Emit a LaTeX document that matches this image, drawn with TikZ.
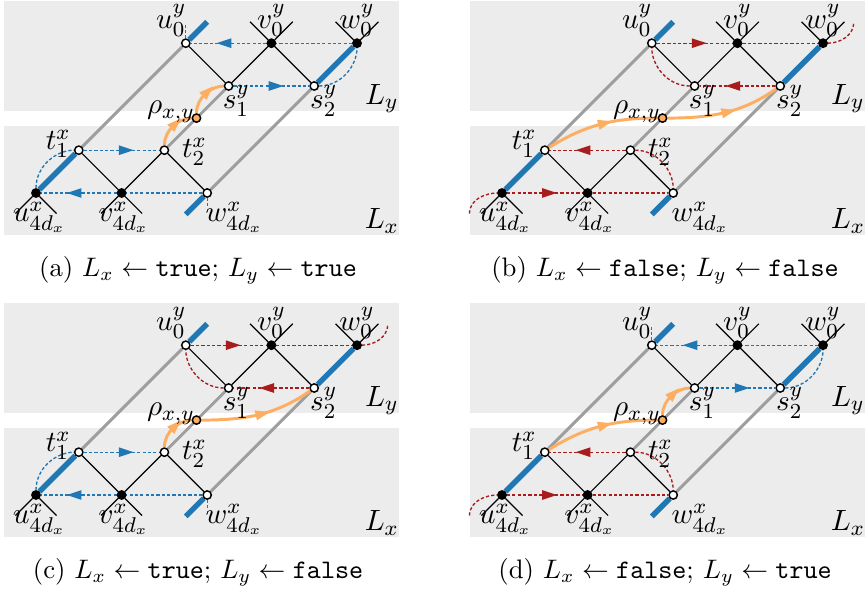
\documentclass[tikz,border=0pt]{standalone}
\usetikzlibrary{arrows.meta,decorations.markings}
\pgfdeclarelayer{bg}
\pgfdeclarelayer{lines}
\pgfsetlayers{bg,lines,main}
\definecolor{tabblue}{RGB}{31,119,180}
\definecolor{dred}{RGB}{168,28,28}
\definecolor{lorange}{RGB}{253,174,97}
\definecolor{boxgray}{RGB}{236,236,236}
\definecolor{linegray}{RGB}{158,158,158}
\tikzset{
  vtx/.style={circle,draw=black,line width=0.55pt,inner sep=0pt,minimum size=3.1pt},
  wvtx/.style={vtx,fill=white},
  bvtx/.style={vtx,fill=black},
  ovtx/.style={vtx,fill=lorange},
  lbl/.style={font=\fontsize{11}{13}\selectfont,inner sep=0pt},
  captxt/.style={font=\fontsize{10}{12}\selectfont,inner sep=0pt},
  graybar/.style={draw=linegray,line width=1.1pt},
  bluebar/.style={draw=tabblue,line width=2pt},
  edgeline/.style={draw=black,line width=0.45pt},
  bdash/.style={draw=tabblue,line width=0.5pt,dash pattern=on 1.2pt off 0.8pt},
  rdash/.style={draw=dred,line width=0.5pt,dash pattern=on 1.2pt off 0.8pt},
  opath/.style={draw=lorange,line width=1.1pt},
  midarrow/.style={postaction={decorate},decoration={markings,mark=at position 0.5 with {\arrow[xshift=4.5pt]{Triangle[length=5.5pt,width=3.5pt]}}}},
}
\newcommand\panelbase{%
  \begin{pgfonlayer}{bg}
    \fill[boxgray] (-0.75,1.92) rectangle (8.47,4.49);
    \fill[boxgray] (-0.75,-0.99) rectangle (8.47,1.57);
  \end{pgfonlayer}
  \node[bvtx] (u4) at (0,0) {};
  \node[wvtx] (t1) at (1,1) {};
  \node[bvtx] (v4) at (2,0) {};
  \node[wvtx] (t2) at (3,1) {};
  \node[wvtx] (w4) at (4,0) {};
  \node[wvtx] (u0) at (3.5,3.5) {};
  \node[wvtx] (s1) at (4.5,2.5) {};
  \node[bvtx] (v0) at (5.5,3.5) {};
  \node[wvtx] (s2) at (6.5,2.5) {};
  \node[bvtx] (w0) at (7.5,3.5) {};
  \node[ovtx] (rho) at (3.75,1.75) {};
  \coordinate (u0ext) at (4,4);
  \coordinate (w4ext) at (3.5,-0.5);
  \coordinate (u4sl) at (-0.48,-0.48);
  \coordinate (u4sr) at (0.48,-0.48);
  \coordinate (v4sl) at (1.52,-0.48);
  \coordinate (v4sr) at (2.48,-0.48);
  \coordinate (v0sl) at (5,4);
  \coordinate (v0sr) at (6,4);
  \coordinate (w0sl) at (7,4);
  \coordinate (w0sr) at (8,4);
  \begin{pgfonlayer}{lines}
    \draw[graybar] (t1) -- (u0);
    \draw[graybar] (t2) -- (s1);
    \draw[graybar] (w4) -- (s2);
    \draw[bluebar] (u4) -- (t1);
    \draw[bluebar] (s2) -- (w0);
    \draw[bluebar] (u0) -- (u0ext);
    \draw[bluebar] (w4) -- (w4ext);
    \draw[edgeline] (u4sl) -- (u4) -- (u4sr);
    \draw[edgeline] (v4sl) -- (v4) -- (v4sr);
    \draw[edgeline] (t1) -- (v4) -- (t2) -- (w4);
    \draw[edgeline] (u0) -- (s1) -- (v0) -- (s2);
    \draw[edgeline] (v0sl) -- (v0) -- (v0sr);
    \draw[edgeline] (w0sl) -- (w0) -- (w0sr);
  \end{pgfonlayer}
  \node[lbl] (lu0) at (3.16,4.03) {$u_0^y$};
  \node[lbl] (lv0) at (5.5,4.03) {$v_0^y$};
  \node[lbl] (lw0) at (7.5,4.03) {$w_0^y$};
  \node[lbl] (ls1) at (4.68,2.15) {$s_1^y$};
  \node[lbl] (ls2) at (6.72,2.15) {$s_2^y$};
  \node[lbl] (lrho) at (3.15,1.9) {$\rho_{x,y}$};
  \node[lbl] (lt1) at (0.52,1.15) {$t_1^x$};
  \node[lbl] (lt2) at (3.7,0.97) {$t_2^x$};
  \node[lbl] (lu4) at (0.08,-0.57) {$u_{4d_x}^x$};
  \node[lbl] (lv4) at (2.05,-0.57) {$v_{4d_x}^x$};
  \node[lbl] (lw4) at (4.63,-0.57) {$w_{4d_x}^x$};
  \node[lbl] (lly) at (8.08,2.2) {$L_y$};
  \node[lbl] (llx) at (8.08,-0.65) {$L_x$};
}
% upper part, L_y true (blue)
\newcommand\uppertrue{%
  \coordinate (u0stub) at (3.5,3.92);
  \begin{pgfonlayer}{lines}
    \draw[bdash,midarrow] (v0) -- (u0);
    \draw[bdash] (w0) -- (v0);
    \draw[bdash] (u0) -- (u0stub);
    \draw[bdash,midarrow] (s1) -- (s2);
    \draw[bdash] (s2) to[out=0,in=-90] (w0);
  \end{pgfonlayer}
}
% upper part, L_y false (red)
\newcommand\upperfalse{%
  \coordinate (w0free) at (8.22,4.0);
  \begin{pgfonlayer}{lines}
    \draw[rdash,midarrow] (u0) -- (v0);
    \draw[rdash] (v0) -- (w0);
    \draw[rdash] (w0) to[out=0,in=-90] (w0free);
    \draw[rdash,midarrow] (s2) -- (s1);
    \draw[rdash] (s1) to[out=180,in=-90] (u0);
  \end{pgfonlayer}
}
% lower part, L_x true (blue)
\newcommand\lowertrue{%
  \coordinate (w4stub) at (4,-0.47);
  \begin{pgfonlayer}{lines}
    \draw[bdash,midarrow] (t1) -- (t2);
    \draw[bdash] (w4) -- (v4);
    \draw[bdash,midarrow] (v4) -- (u4);
    \draw[bdash] (u4) to[out=90,in=180] (t1);
    \draw[bdash] (w4) -- (w4stub);
  \end{pgfonlayer}
}
% lower part, L_x false (red)
\newcommand\lowerfalse{%
  \coordinate (u4free) at (-0.76,-0.48);
  \begin{pgfonlayer}{lines}
    \draw[rdash,midarrow] (t2) -- (t1);
    \draw[rdash] (t2) to[out=0,in=90] (w4);
    \draw[rdash,midarrow] (u4) -- (v4);
    \draw[rdash] (v4) -- (w4);
    \draw[rdash] (u4free) to[out=90,in=180] (u4);
  \end{pgfonlayer}
}
\begin{document}
\begin{tikzpicture}[x=16pt,y=16pt]
\useasboundingbox (0,0) rectangle (20.21,-13.762);
% (a)
\begin{scope}[shift={(0.841,-4.509)},name prefix=a-]
  \panelbase
  \uppertrue
  \lowertrue
  \begin{pgfonlayer}{lines}
    \draw[opath,midarrow] (t2) to[out=90,in=180] (rho);
    \draw[opath,midarrow] (rho) to[out=90,in=180] (s1);
  \end{pgfonlayer}
\end{scope}
% (b)
\begin{scope}[shift={(11.729,-4.509)},name prefix=b-]
  \panelbase
  \upperfalse
  \lowerfalse
  \begin{pgfonlayer}{lines}
    \draw[opath,midarrow] (t1) to[out=32,in=180] (rho);
    \draw[opath,midarrow] (rho) to[out=0,in=215] (s2);
  \end{pgfonlayer}
\end{scope}
% (c)
\begin{scope}[shift={(0.841,-11.565)},name prefix=c-]
  \panelbase
  \upperfalse
  \lowertrue
  \begin{pgfonlayer}{lines}
    \draw[opath,midarrow] (t2) to[out=90,in=180] (rho);
    \draw[opath,midarrow] (rho) to[out=0,in=215] (s2);
  \end{pgfonlayer}
\end{scope}
% (d)
\begin{scope}[shift={(11.729,-11.565)},name prefix=d-]
  \panelbase
  \uppertrue
  \lowerfalse
  \begin{pgfonlayer}{lines}
    \draw[opath,midarrow] (t1) to[out=32,in=180] (rho);
    \draw[opath,midarrow] (rho) to[out=90,in=180] (s1);
  \end{pgfonlayer}
\end{scope}
\node[captxt] (capa) at (4.626,-6.308) {(a) $L_x \leftarrow \texttt{true}$; $L_y \leftarrow \texttt{true}$};
\node[captxt] (capb) at (15.537,-6.308) {(b) $L_x \leftarrow \texttt{false}$; $L_y \leftarrow \texttt{false}$};
\node[captxt] (capc) at (4.626,-13.364) {(c) $L_x \leftarrow \texttt{true}$; $L_y \leftarrow \texttt{false}$};
\node[captxt] (capd) at (15.537,-13.364) {(d) $L_x \leftarrow \texttt{false}$; $L_y \leftarrow \texttt{true}$};
\end{tikzpicture}
\end{document}
